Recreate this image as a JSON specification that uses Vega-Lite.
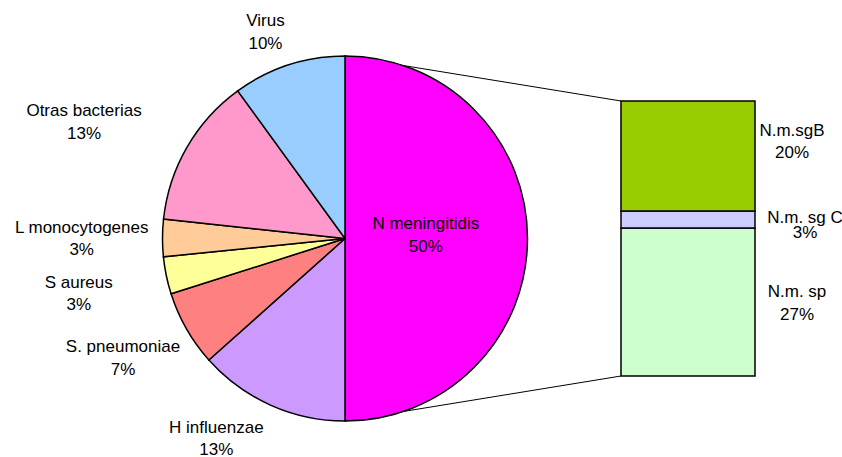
{
  "$schema": "https://vega.github.io/schema/vega-lite/v6.json",
  "width": 842,
  "height": 457,
  "autosize": {"type": "none"},
  "padding": 0,
  "background": "white",
  "config": {
    "view": {"stroke": null},
    "text": {"font": "Liberation Sans", "fontSize": 17, "lineBreak": "\n", "lineHeight": 22.8, "color": "black"}
  },
  "datasets": {
    "pie": [
      {"name": "N meningitidis", "value": 50, "order": 1},
      {"name": "H influenzae", "value": 13.4, "order": 2},
      {"name": "S. pneumoniae", "value": 6.7, "order": 3},
      {"name": "S aureus", "value": 3.3, "order": 4},
      {"name": "L monocytogenes", "value": 3.3, "order": 5},
      {"name": "Otras bacterias", "value": 13.3, "order": 6},
      {"name": "Virus", "value": 10, "order": 7}
    ],
    "bar": [
      {"name": "N.m. sp", "value": 26.9, "order": 1},
      {"name": "N.m. sg C", "value": 3.1, "order": 2},
      {"name": "N.m.sgB", "value": 20, "order": 3}
    ]
  },
  "layer": [
    {
      "data": {"values": [{}]},
      "mark": {"type": "rule", "color": "black", "strokeWidth": 1},
      "encoding": {
        "x": {"datum": 345, "type": "quantitative", "scale": {"domain": [0, 842], "nice": false, "zero": false}, "axis": null},
        "y": {"datum": 58.18, "type": "quantitative", "scale": {"domain": [-14.727, 68.364], "nice": false, "zero": false}, "axis": null},
        "x2": {"datum": 621},
        "y2": {"datum": 50}
      }
    },
    {
      "data": {"values": [{}]},
      "mark": {"type": "rule", "color": "black", "strokeWidth": 1},
      "encoding": {
        "x": {"datum": 345, "type": "quantitative", "scale": {"domain": [0, 842], "nice": false, "zero": false}, "axis": null},
        "y": {"datum": -8.18, "type": "quantitative", "scale": {"domain": [-14.727, 68.364], "nice": false, "zero": false}, "axis": null},
        "x2": {"datum": 621},
        "y2": {"datum": 0}
      }
    },
    {
      "data": {"name": "pie"},
      "transform": [
        {"stack": "value", "groupby": [], "sort": [{"field": "order"}], "as": ["t0", "t1"]},
        {"calculate": "(datum.t0 + datum.t1) / 2", "as": "mid"},
        {"calculate": "datum.name + '\\n' + format(datum.value, '.0f') + '%'", "as": "label"}
      ],
      "encoding": {
        "x": {"datum": 345, "type": "quantitative", "scale": {"domain": [0, 842], "nice": false, "zero": false}, "axis": null},
        "y": {"datum": 25, "type": "quantitative", "scale": {"domain": [-14.727, 68.364], "nice": false, "zero": false}, "axis": null}
      },
      "layer": [
        {
          "mark": {"type": "arc", "radius": 182.5, "stroke": "black", "strokeWidth": 1.5},
          "encoding": {
            "theta": {"field": "t0", "type": "quantitative", "scale": {"domain": [0, 100]}},
            "theta2": {"field": "t1"},
            "color": {
              "field": "name", "type": "nominal", "legend": null,
              "scale": {
                "domain": ["N meningitidis", "H influenzae", "S. pneumoniae", "S aureus", "L monocytogenes", "Otras bacterias", "Virus", "N.m.sgB", "N.m. sg C", "N.m. sp"],
                "range": ["#FF00FF", "#CC99FF", "#FF8080", "#FFFF99", "#FFCC99", "#FF99CC", "#99CCFF", "#99CC00", "#CCCCFF", "#CCFFCC"]
              }
            }
          }
        },
        {
          "transform": [{"filter": "datum.name == 'N meningitidis'"}],
          "mark": {"type": "text", "radius": 80.8, "dy": -14.2},
          "encoding": {"theta": {"field": "mid", "type": "quantitative", "stack": null, "scale": {"domain": [0, 100]}}, "text": {"field": "label"}}
        },
        {
          "transform": [{"filter": "datum.name == 'H influenzae'"}],
          "mark": {"type": "text", "radius": 235.3, "dx": -32.5, "dy": -25.6},
          "encoding": {"theta": {"field": "mid", "type": "quantitative", "stack": null, "scale": {"domain": [0, 100]}}, "text": {"field": "label"}}
        },
        {
          "transform": [{"filter": "datum.name == 'S. pneumoniae'"}],
          "mark": {"type": "text", "radius": 251.9, "dx": -3.2, "dy": -16.5},
          "encoding": {"theta": {"field": "mid", "type": "quantitative", "stack": null, "scale": {"domain": [0, 100]}}, "text": {"field": "label"}}
        },
        {
          "transform": [{"filter": "datum.name == 'S aureus'"}],
          "mark": {"type": "text", "radius": 271.9, "dy": -11},
          "encoding": {"theta": {"field": "mid", "type": "quantitative", "stack": null, "scale": {"domain": [0, 100]}}, "text": {"field": "label"}}
        },
        {
          "transform": [{"filter": "datum.name == 'L monocytogenes'"}],
          "mark": {"type": "text", "radius": 263.3, "dy": -10},
          "encoding": {"theta": {"field": "mid", "type": "quantitative", "stack": null, "scale": {"domain": [0, 100]}}, "text": {"field": "label"}}
        },
        {
          "transform": [{"filter": "datum.name == 'Otras bacterias'"}],
          "mark": {"type": "text", "radius": 284.4, "dx": -14.8, "dy": 14.8},
          "encoding": {"theta": {"field": "mid", "type": "quantitative", "stack": null, "scale": {"domain": [0, 100]}}, "text": {"field": "label"}}
        },
        {
          "transform": [{"filter": "datum.name == 'Virus'"}],
          "mark": {"type": "text", "radius": 220.5, "dx": -11.4, "dy": -7.3},
          "encoding": {"theta": {"field": "mid", "type": "quantitative", "stack": null, "scale": {"domain": [0, 100]}}, "text": {"field": "label"}}
        }
      ]
    },
    {
      "data": {"name": "bar"},
      "transform": [
        {"stack": "value", "groupby": [], "sort": [{"field": "order"}], "as": ["b0", "b1"]},
        {"calculate": "(datum.b0 + datum.b1) / 2", "as": "mid"},
        {"calculate": "datum.name + '\\n' + format(datum.value, '.0f') + '%'", "as": "label"}
      ],
      "layer": [
        {
          "mark": {"type": "bar", "stroke": "black", "strokeWidth": 1.5},
          "encoding": {
            "x": {"datum": 621, "type": "quantitative", "scale": {"domain": [0, 842], "nice": false, "zero": false}, "axis": null},
            "x2": {"datum": 755},
            "y": {"field": "b0", "type": "quantitative", "scale": {"domain": [-14.727, 68.364], "nice": false, "zero": false}, "axis": null},
            "y2": {"field": "b1"},
            "color": {"field": "name", "type": "nominal", "legend": null}
          }
        },
        {
          "transform": [{"filter": "datum.name == 'N.m.sgB'"}],
          "mark": {"type": "text", "dx": -5, "dy": -25.3},
          "encoding": {
            "x": {"datum": 797, "type": "quantitative", "scale": {"domain": [0, 842], "nice": false, "zero": false}, "axis": null},
            "y": {"field": "mid", "type": "quantitative", "scale": {"domain": [-14.727, 68.364], "nice": false, "zero": false}, "axis": null},
            "text": {"field": "label"}
          }
        },
        {
          "transform": [{"filter": "datum.name == 'N.m. sg C'"}],
          "mark": {"type": "text", "dx": 8, "dy": -2, "lineHeight": 15},
          "encoding": {
            "x": {"datum": 797, "type": "quantitative", "scale": {"domain": [0, 842], "nice": false, "zero": false}, "axis": null},
            "y": {"field": "mid", "type": "quantitative", "scale": {"domain": [-14.727, 68.364], "nice": false, "zero": false}, "axis": null},
            "text": {"field": "label"}
          }
        },
        {
          "transform": [{"filter": "datum.name == 'N.m. sp'"}],
          "mark": {"type": "text", "dy": -10},
          "encoding": {
            "x": {"datum": 797, "type": "quantitative", "scale": {"domain": [0, 842], "nice": false, "zero": false}, "axis": null},
            "y": {"field": "mid", "type": "quantitative", "scale": {"domain": [-14.727, 68.364], "nice": false, "zero": false}, "axis": null},
            "text": {"field": "label"}
          }
        }
      ]
    }
  ]
}
